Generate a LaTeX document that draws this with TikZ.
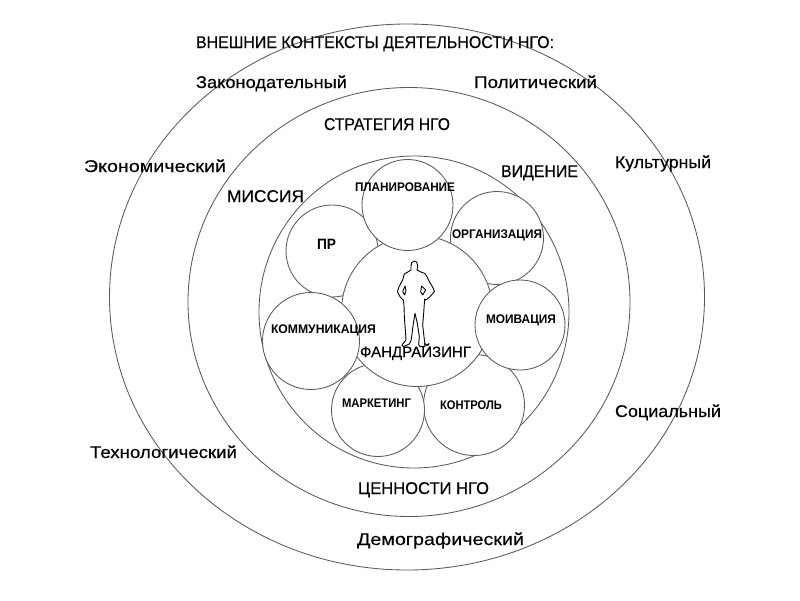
\documentclass[tikz,border=0pt]{standalone}
\usepackage{fontspec}
\usepackage{graphicx}
\setmainfont{Liberation Sans}
\newfontfamily\heavyfont[FakeBold=0.35]{Liberation Sans}
\usetikzlibrary{shapes.geometric}
\definecolor{linegray}{HTML}{5A5A5A}
\newcommand{\fitw}[2]{\resizebox{#1pt}{\height}{#2}}
\tikzset{
  ring/.style={draw=linegray,line width=0.85pt,fill=white,ellipse,inner sep=0pt},
  disc/.style={draw=linegray,line width=0.85pt,fill=white,circle,inner sep=0pt,minimum size=#1},
  biglabel/.style={anchor=base,inner sep=0pt,font=\heavyfont\fontsize{17}{17}\selectfont,text=black},
  midlabel/.style={anchor=base,inner sep=0pt,font=\fontsize{15}{15}\bfseries\selectfont,text=black},
  smalllabel/.style={anchor=base,inner sep=0pt,font=\fontsize{12.5}{12.5}\bfseries\selectfont,text=black},
  figure line/.style={draw=black,line width=0.9pt,fill=white,line join=round}
}
\begin{document}
\begin{tikzpicture}[x=1pt,y=-1pt]
\useasboundingbox (0,0) rectangle (800,600);
% rings
\node[ring,minimum width=595pt,minimum height=546pt] (outer) at (407,297) {};
\node[ring,minimum width=442pt,minimum height=429pt] (middle) at (409,302) {};
\node[ring,minimum width=310pt,minimum height=312pt] (inner) at (414,312) {};
% discs under the centre
\node[disc=92pt] (cpr) at (332,251) {};
\node[disc=93pt] (corg) at (497,238) {};
\node[disc=101pt] (ckon) at (474,405) {};
\node[disc=93pt] (cmar) at (378,410) {};
\node[disc=151pt] (ccen) at (417,311) {};
\node[disc=91pt] (cpla) at (407.5,205) {};
\node[disc=97pt] (ckom) at (311,341) {};
\node[disc=90pt] (cmot) at (520,325) {};
% figure
\begin{scope}[shift={(380,250)},x=0.3333pt,y=-0.3333pt]
\draw[figure line] (103,33) -- (110,36) -- (113,48) -- (111,60) -- (120,65) -- (134,70) -- (141,80) -- (148,95) -- (160,115) -- (163,125) -- (150,140) -- (138,150) -- (134,148) -- (133,160) -- (131,190) -- (128,225) -- (132,260) -- (135,283) -- (135,290) -- (120,290) -- (116,283) -- (118,260) -- (112,220) -- (105,190) -- (100,220) -- (95,260) -- (93,272) -- (88,282) -- (70,290) -- (66,285) -- (78,270) -- (76,240) -- (73,200) -- (72,165) -- (70,150) -- (60,140) -- (52,125) -- (57,110) -- (68,90) -- (73,72) -- (80,68) -- (93,60) -- (93,48) -- (95,38) -- cycle;
\draw[figure line] (75,108) -- (68,125) -- (74,135) -- (78,122) -- cycle;
\draw[figure line] (125,108) -- (122,125) -- (128,135) -- (137,120) -- cycle;
\end{scope}
% labels
\node[biglabel] (t1) at (375,48) {\fitw{358}{ВНЕШНИЕ КОНТЕКСТЫ ДЕЯТЕЛЬНОСТИ НГО:}};
\node[biglabel] (t2) at (271.5,88) {\fitw{151}{Законодательный}};
\node[biglabel] (t3) at (535.5,88) {\fitw{123}{Политический}};
\node[biglabel] (t4) at (387,130) {\fitw{126}{СТРАТЕГИЯ НГО}};
\node[biglabel] (t5) at (155,172) {\fitw{142}{Экономический}};
\node[biglabel] (t6) at (663,168) {\fitw{96}{Культурный}};
\node[biglabel] (t7) at (265.5,202) {\fitw{77}{МИССИЯ}};
\node[biglabel] (t8) at (539.5,177) {\fitw{77}{ВИДЕНИЕ}};
\node[smalllabel] (t9) at (405,191) {\fitw{100}{ПЛАНИРОВАНИЕ}};
\node[smalllabel] (t10) at (497,238) {\fitw{90}{ОРГАНИЗАЦИЯ}};
\node[midlabel] (t11) at (326.5,249) {\fitw{19}{ПР}};
\node[smalllabel] (t12) at (521,323) {\fitw{70}{МОИВАЦИЯ}};
\node[smalllabel] (t13) at (323.5,333) {\fitw{105}{КОММУНИКАЦИЯ}};
\node[biglabel,font=\heavyfont\fontsize{15}{15}\selectfont] (t14) at (415.5,357) {\fitw{111}{ФАНДРАЙЗИНГ}};
\node[smalllabel] (t15) at (376.5,407) {\fitw{69}{МАРКЕТИНГ}};
\node[smalllabel] (t16) at (471,409) {\fitw{62}{КОНТРОЛЬ}};
\node[biglabel] (t17) at (668,417) {\fitw{106}{Социальный}};
\node[biglabel] (t18) at (163.5,458) {\fitw{147}{Технологический}};
\node[biglabel] (t19) at (423.5,494) {\fitw{131}{ЦЕННОСТИ НГО}};
\node[biglabel] (t20) at (440.5,545) {\fitw{167}{Демографический}};
\end{tikzpicture}
\end{document}
